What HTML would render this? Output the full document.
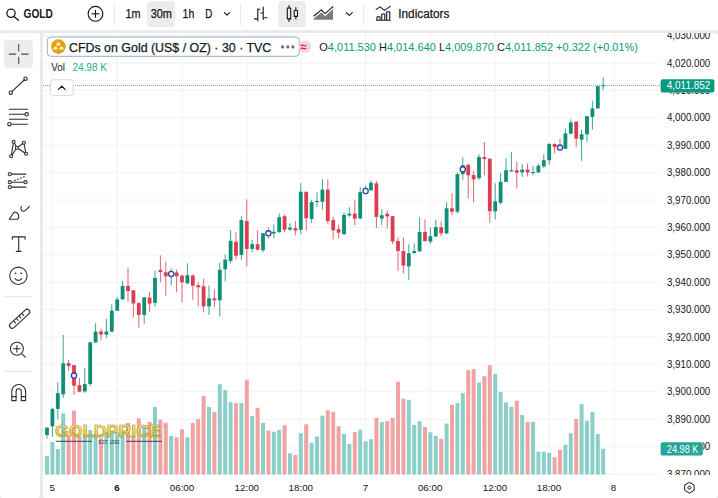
<!DOCTYPE html>
<html><head><meta charset="utf-8"><title>GOLD chart</title>
<style>
*{box-sizing:border-box;margin:0;padding:0}
html,body{width:718px;height:498px;overflow:hidden;background:#e9eaec}
body{position:relative;font-family:"Liberation Sans",Arial,sans-serif;color:#131722}
svg{position:absolute;left:0;top:0;display:block}
text{font-family:"Liberation Sans",Arial,sans-serif}
</style></head>
<body>
<svg width="718" height="498" viewBox="0 0 718 498">
<defs>
<linearGradient id="gold" x1="0" y1="0" x2="0" y2="1">
<stop offset="0" stop-color="#fffce0"/><stop offset="0.4" stop-color="#f6e35c"/><stop offset="1" stop-color="#dcbd30"/>
</linearGradient>
<clipPath id="pane"><rect x="43" y="33" width="675" height="442"/></clipPath>
<clipPath id="paxis"><rect x="655" y="33" width="63" height="442"/></clipPath>
<clipPath id="p3880"><rect x="702.8" y="430" width="20" height="30"/></clipPath>
</defs>
<!-- backgrounds -->
<rect x="0" y="0" width="718" height="30" fill="#fff"/>
<rect x="0" y="33" width="40" height="465" rx="3" fill="#fff"/>
<rect x="43" y="33" width="675" height="465" rx="3" fill="#fff"/>

<!-- top toolbar -->
<g fill="none" stroke="#131722" stroke-width="1.3" stroke-linecap="round">
<circle cx="11" cy="13.3" r="4.1"/>
<line x1="14" y1="16.4" x2="18.4" y2="20.2"/>
</g>
<text x="23.6" y="17.9" font-size="12" font-weight="bold" fill="#131722" textLength="29.2" lengthAdjust="spacingAndGlyphs">GOLD</text>
<g fill="none" stroke="#131722" stroke-width="1.1">
<circle cx="95.5" cy="13.8" r="7.4"/>
<line x1="91.5" y1="13.8" x2="99.5" y2="13.8"/>
<line x1="95.5" y1="9.8" x2="95.5" y2="17.8"/>
</g>
<g fill="#e9eaee">
<rect x="114" y="4" width="1" height="22"/>
<rect x="240" y="4" width="1" height="22"/>
<rect x="363" y="4" width="1" height="22"/>
</g>
<rect x="147" y="1" width="28" height="26" rx="4" fill="#ececec"/>
<rect x="278" y="1" width="28" height="26" rx="4" fill="#ececec"/>
<g font-size="12" fill="#131722" stroke="#131722" stroke-width="0.25">
<text x="125.4" y="17.6" textLength="15" lengthAdjust="spacingAndGlyphs">1m</text>
<text x="150.7" y="17.6" textLength="21.3" lengthAdjust="spacingAndGlyphs">30m</text>
<text x="182.6" y="17.6" textLength="11.7" lengthAdjust="spacingAndGlyphs">1h</text>
<text x="205.3" y="17.6" textLength="7" lengthAdjust="spacingAndGlyphs">D</text>
<text x="398.3" y="17.9" textLength="51" lengthAdjust="spacingAndGlyphs">Indicators</text>
</g>
<g fill="none" stroke="#131722" stroke-width="1.1" stroke-linecap="round" stroke-linejoin="round">
<polyline points="224.3,12.6 227,15.2 229.7,12.6"/>
<polyline points="346.3,12.6 349.3,15.4 352.3,12.6"/>
<!-- bars icon -->
<path d="M257.8 8.9V20.8M254.4 18.9H257.8M257.8 9.3H259.8M263.2 7V19.5M261 13H263.2M263.2 17.7H266.9"/>
<!-- candles icon -->
<path d="M289 5.5V8M289 18.9V21.4M295.85 7.6V10.5M295.85 16.4V18.9"/>
<rect x="287.3" y="8" width="3.4" height="10.9"/>
<rect x="294.2" y="10.5" width="3.3" height="5.9"/>
<!-- area icon -->
<polyline points="313.9,16 321.4,9.8 325,13.7 333,6.6"/>
<!-- indicators icon -->
<polyline points="376.2,9.4 380,6.9 384.5,10.4 390.3,6.4"/>
<path d="M376.3 20.2H390.3M377 20.2V16.7H380V20.2M381.8 20.2V14H384.8V20.2M386.7 20.2V11.7H389.7V20.2"/>
</g>
<polygon points="313.9,19.8 313.9,18.6 321.4,12.3 325,16.2 333,9 333,19.8" fill="#787a84"/>

<!-- left toolbar -->
<rect x="4" y="40" width="29" height="28" rx="4" fill="#ececec"/>
<g fill="none" stroke="#4a4d57" stroke-width="1.1" stroke-linecap="round">
<path d="M9.2 54.1H15.6M21.6 54.1H28.2M18.7 44.6V51M18.7 57.2V63.6"/>
</g>
<g fill="none" stroke="#2a2e39" stroke-width="1.1" stroke-linecap="round" stroke-linejoin="round">
<line x1="12.1" y1="91.4" x2="24.2" y2="80"/>
<circle cx="25.5" cy="78.7" r="1.7"/>
<circle cx="10.8" cy="92.7" r="1.7"/>
<path d="M9.4 109.2H27.5M9.4 114.3H24.9M9.4 119.2H27.5M11.2 124.2H27.5"/>
<circle cx="26.7" cy="114.3" r="1.7" fill="#fff"/>
<circle cx="9.4" cy="124.2" r="1.7" fill="#fff"/>
<path d="M11.2 156.2L13.6 141.7L16.9 147.7L23.9 142.8L26 153.8L16.9 147.7L11.2 156.2"/>
<circle cx="13.6" cy="141.7" r="1.5" fill="#fff"/>
<circle cx="23.9" cy="142.8" r="1.5" fill="#fff"/>
<circle cx="16.9" cy="147.7" r="1.5" fill="#fff"/>
<circle cx="11.2" cy="156.2" r="1.5" fill="#fff"/>
<circle cx="26" cy="153.8" r="1.5" fill="#fff"/>
<path d="M11.5 174.1H26M11.5 182.2H23.8M11.5 187.1H26"/>
<path d="M14.5 180.6L25.3 176.2" stroke-dasharray="0.9 2.3"/>
<circle cx="9.8" cy="174.1" r="1.6" fill="#fff"/>
<circle cx="9.8" cy="182.2" r="1.6" fill="#fff"/>
<circle cx="9.8" cy="187.1" r="1.6" fill="#fff"/>
<circle cx="25.5" cy="182.2" r="1.6" fill="#fff"/>
<path d="M9.2 219.3L14 212.2A4.1 4.1 0 0 1 17.4 219.3Z"/>
<path d="M21.3 206.4C20.3 208.6 21.2 211.3 23.6 211.3C25 211.3 27.5 208.6 29.5 206.4"/>
<path d="M12.3 239.2V236.9H25.1V239.2M18.7 236.9V251.4M16.3 251.4H21.1"/>
<circle cx="18.4" cy="275.8" r="8.7"/>
<path d="M15 278.6Q18.4 282.2 21.8 278.6"/>
<path d="M12.2 325.6L27 312" stroke-width="6.4" stroke="#2a2e39"/>
<path d="M12.2 325.6L27 312" stroke-width="4.2" stroke="#fff"/>
<path d="M13.9 321.2L15.5 322.9M16.6 318.7L18.2 320.4M19.3 316.2L20.9 317.9M22 313.7L23.6 315.4" />
<circle cx="16.9" cy="348.8" r="6.5"/>
<path d="M21.7 353.6L25.3 357.2M13.6 348.8H20.2M16.9 345.5V352.1"/>
<path d="M11.8 400.6V391.4A6.9 6.9 0 0 1 25.6 391.4V400.6H21.3V391.4A2.6 2.6 0 0 0 16.1 391.4V400.6Z"/>
<path d="M11.8 396.6H16.1M21.3 396.6H25.6"/>
</g>
<g fill="#e0e3eb">
<rect x="4" y="296.2" width="28.5" height="1"/>
<rect x="4" y="370.7" width="28.5" height="1"/>
</g>
<g fill="#2a2e39">
<circle cx="15.6" cy="273.3" r="0.9"/>
<circle cx="21.2" cy="273.3" r="0.9"/>
</g>

<!-- chart -->
<g clip-path="url(#pane)">
<g stroke="#f1f2f4" stroke-width="1"><line x1="43" x2="660" y1="35.6" y2="35.6"/><line x1="43" x2="660" y1="63" y2="63"/><line x1="43" x2="660" y1="90.4" y2="90.4"/><line x1="43" x2="660" y1="117.8" y2="117.8"/><line x1="43" x2="660" y1="145.2" y2="145.2"/><line x1="43" x2="660" y1="172.6" y2="172.6"/><line x1="43" x2="660" y1="200" y2="200"/><line x1="43" x2="660" y1="227.4" y2="227.4"/><line x1="43" x2="660" y1="254.8" y2="254.8"/><line x1="43" x2="660" y1="282.2" y2="282.2"/><line x1="43" x2="660" y1="309.6" y2="309.6"/><line x1="43" x2="660" y1="337" y2="337"/><line x1="43" x2="660" y1="364.4" y2="364.4"/><line x1="43" x2="660" y1="391.8" y2="391.8"/><line x1="43" x2="660" y1="419.2" y2="419.2"/><line x1="43" x2="660" y1="446.6" y2="446.6"/><line x1="43" x2="660" y1="474" y2="474"/><line x1="52.4" x2="52.4" y1="33" y2="475"/><line x1="117.2" x2="117.2" y1="33" y2="475"/><line x1="182" x2="182" y1="33" y2="475"/><line x1="246.8" x2="246.8" y1="33" y2="475"/><line x1="300.8" x2="300.8" y1="33" y2="475"/><line x1="365.6" x2="365.6" y1="33" y2="475"/><line x1="430.4" x2="430.4" y1="33" y2="475"/><line x1="495.2" x2="495.2" y1="33" y2="475"/><line x1="549.2" x2="549.2" y1="33" y2="475"/><line x1="614" x2="614" y1="33" y2="475"/></g>
<g><rect x="45" y="456" width="4" height="18.5" fill="#8bcfc8"/><rect x="50.4" y="442" width="4" height="32.5" fill="#8bcfc8"/><rect x="55.8" y="449" width="4" height="25.5" fill="#8bcfc8"/><rect x="61.2" y="413.3" width="4" height="61.2" fill="#8bcfc8"/><rect x="66.6" y="435" width="4" height="39.5" fill="#f1a3a3"/><rect x="72" y="410.5" width="4" height="64" fill="#f1a3a3"/><rect x="77.4" y="436" width="4" height="38.5" fill="#f1a3a3"/><rect x="82.8" y="434" width="4" height="40.5" fill="#8bcfc8"/><rect x="88.2" y="430" width="4" height="44.5" fill="#8bcfc8"/><rect x="93.6" y="434" width="4" height="40.5" fill="#8bcfc8"/><rect x="99" y="438" width="4" height="36.5" fill="#f1a3a3"/><rect x="104.4" y="432" width="4" height="42.5" fill="#8bcfc8"/><rect x="109.8" y="432" width="4" height="42.5" fill="#8bcfc8"/><rect x="115.2" y="432" width="4" height="42.5" fill="#8bcfc8"/><rect x="120.6" y="432" width="4" height="42.5" fill="#8bcfc8"/><rect x="126" y="423" width="4" height="51.5" fill="#f1a3a3"/><rect x="131.4" y="436" width="4" height="38.5" fill="#f1a3a3"/><rect x="136.8" y="418.3" width="4" height="56.2" fill="#f1a3a3"/><rect x="142.2" y="426" width="4" height="48.5" fill="#8bcfc8"/><rect x="147.6" y="422" width="4" height="52.5" fill="#f1a3a3"/><rect x="153" y="407" width="4" height="67.5" fill="#8bcfc8"/><rect x="158.4" y="419.6" width="4" height="54.9" fill="#f1a3a3"/><rect x="163.8" y="422.8" width="4" height="51.7" fill="#f1a3a3"/><rect x="169.2" y="435.9" width="4" height="38.6" fill="#8bcfc8"/><rect x="174.6" y="437.3" width="4" height="37.2" fill="#f1a3a3"/><rect x="180" y="429.2" width="4" height="45.3" fill="#f1a3a3"/><rect x="185.4" y="437.3" width="4" height="37.2" fill="#8bcfc8"/><rect x="190.8" y="423" width="4" height="51.5" fill="#f1a3a3"/><rect x="196.2" y="419.1" width="4" height="55.4" fill="#f1a3a3"/><rect x="201.6" y="395.8" width="4" height="78.7" fill="#f1a3a3"/><rect x="207" y="407" width="4" height="67.5" fill="#8bcfc8"/><rect x="212.4" y="411.8" width="4" height="62.7" fill="#f1a3a3"/><rect x="217.8" y="384.2" width="4" height="90.3" fill="#8bcfc8"/><rect x="223.2" y="390" width="4" height="84.5" fill="#8bcfc8"/><rect x="228.6" y="402.2" width="4" height="72.3" fill="#8bcfc8"/><rect x="234" y="403.1" width="4" height="71.4" fill="#f1a3a3"/><rect x="239.4" y="403.1" width="4" height="71.4" fill="#8bcfc8"/><rect x="244.8" y="379.8" width="4" height="94.7" fill="#f1a3a3"/><rect x="250.2" y="415.9" width="4" height="58.6" fill="#8bcfc8"/><rect x="255.6" y="407.8" width="4" height="66.7" fill="#f1a3a3"/><rect x="261" y="423" width="4" height="51.5" fill="#8bcfc8"/><rect x="266.4" y="430.5" width="4" height="44" fill="#f1a3a3"/><rect x="271.8" y="431.8" width="4" height="42.7" fill="#8bcfc8"/><rect x="277.2" y="430" width="4" height="44.5" fill="#8bcfc8"/><rect x="282.6" y="425.2" width="4" height="49.3" fill="#f1a3a3"/><rect x="288" y="453.2" width="4" height="21.3" fill="#8bcfc8"/><rect x="293.4" y="455.1" width="4" height="19.4" fill="#f1a3a3"/><rect x="298.8" y="433.2" width="4" height="41.3" fill="#8bcfc8"/><rect x="304.2" y="424.3" width="4" height="50.2" fill="#f1a3a3"/><rect x="309.6" y="442.7" width="4" height="31.8" fill="#8bcfc8"/><rect x="315" y="436.5" width="4" height="38" fill="#8bcfc8"/><rect x="320.4" y="415.7" width="4" height="58.8" fill="#8bcfc8"/><rect x="325.8" y="410.3" width="4" height="64.2" fill="#f1a3a3"/><rect x="331.2" y="411.8" width="4" height="62.7" fill="#f1a3a3"/><rect x="336.6" y="426.3" width="4" height="48.2" fill="#f1a3a3"/><rect x="342" y="434" width="4" height="40.5" fill="#8bcfc8"/><rect x="347.4" y="444" width="4" height="30.5" fill="#8bcfc8"/><rect x="352.8" y="432" width="4" height="42.5" fill="#f1a3a3"/><rect x="358.2" y="429.7" width="4" height="44.8" fill="#8bcfc8"/><rect x="363.6" y="441.3" width="4" height="33.2" fill="#8bcfc8"/><rect x="369" y="439.2" width="4" height="35.3" fill="#8bcfc8"/><rect x="374.4" y="417.9" width="4" height="56.6" fill="#f1a3a3"/><rect x="379.8" y="422.1" width="4" height="52.4" fill="#8bcfc8"/><rect x="385.2" y="421.1" width="4" height="53.4" fill="#f1a3a3"/><rect x="390.6" y="417.9" width="4" height="56.6" fill="#f1a3a3"/><rect x="396" y="381.7" width="4" height="92.8" fill="#f1a3a3"/><rect x="401.4" y="398.7" width="4" height="75.8" fill="#f1a3a3"/><rect x="406.8" y="399.8" width="4" height="74.7" fill="#8bcfc8"/><rect x="412.2" y="424.9" width="4" height="49.6" fill="#8bcfc8"/><rect x="417.6" y="421.1" width="4" height="53.4" fill="#8bcfc8"/><rect x="423" y="427" width="4" height="47.5" fill="#f1a3a3"/><rect x="428.4" y="432.3" width="4" height="42.2" fill="#8bcfc8"/><rect x="433.8" y="435.9" width="4" height="38.6" fill="#8bcfc8"/><rect x="439.2" y="438.8" width="4" height="35.7" fill="#f1a3a3"/><rect x="444.6" y="423.5" width="4" height="51" fill="#8bcfc8"/><rect x="450" y="404.8" width="4" height="69.7" fill="#f1a3a3"/><rect x="455.4" y="403.1" width="4" height="71.4" fill="#8bcfc8"/><rect x="460.8" y="393.1" width="4" height="81.4" fill="#8bcfc8"/><rect x="466.2" y="370.1" width="4" height="104.4" fill="#f1a3a3"/><rect x="471.6" y="369.1" width="4" height="105.4" fill="#f1a3a3"/><rect x="477" y="382.5" width="4" height="92" fill="#8bcfc8"/><rect x="482.4" y="376.1" width="4" height="98.4" fill="#f1a3a3"/><rect x="487.8" y="365.2" width="4" height="109.3" fill="#f1a3a3"/><rect x="493.2" y="374" width="4" height="100.5" fill="#8bcfc8"/><rect x="498.6" y="391.9" width="4" height="82.6" fill="#8bcfc8"/><rect x="504" y="402.4" width="4" height="72.1" fill="#8bcfc8"/><rect x="509.4" y="406.7" width="4" height="67.8" fill="#8bcfc8"/><rect x="514.8" y="400.7" width="4" height="73.8" fill="#f1a3a3"/><rect x="520.2" y="415" width="4" height="59.5" fill="#8bcfc8"/><rect x="525.6" y="421.8" width="4" height="52.7" fill="#f1a3a3"/><rect x="531" y="421.8" width="4" height="52.7" fill="#8bcfc8"/><rect x="536.4" y="451.7" width="4" height="22.8" fill="#8bcfc8"/><rect x="541.8" y="451.7" width="4" height="22.8" fill="#8bcfc8"/><rect x="547.2" y="452.9" width="4" height="21.6" fill="#8bcfc8"/><rect x="552.6" y="457.2" width="4" height="17.3" fill="#f1a3a3"/><rect x="558" y="450" width="4" height="24.5" fill="#f1a3a3"/><rect x="563.4" y="444.9" width="4" height="29.6" fill="#8bcfc8"/><rect x="568.8" y="433.2" width="4" height="41.3" fill="#8bcfc8"/><rect x="574.2" y="419" width="4" height="55.5" fill="#f1a3a3"/><rect x="579.6" y="404.2" width="4" height="70.3" fill="#8bcfc8"/><rect x="585" y="420.7" width="4" height="53.8" fill="#8bcfc8"/><rect x="590.4" y="411.9" width="4" height="62.6" fill="#8bcfc8"/><rect x="595.8" y="434" width="4" height="40.5" fill="#8bcfc8"/><rect x="601.2" y="448.7" width="4" height="25.8" fill="#8bcfc8"/></g>
<g><rect x="46.5" y="427" width="1" height="11.4" fill="#0f8f74" fill-opacity="0.8"/><rect x="45.1" y="427.7" width="3.8" height="7.3" fill="#0f8f74"/><rect x="51.9" y="408" width="1" height="28.4" fill="#0f8f74" fill-opacity="0.8"/><rect x="50.5" y="408.9" width="3.8" height="17.4" fill="#0f8f74"/><rect x="57.3" y="382.1" width="1" height="37.2" fill="#0f8f74" fill-opacity="0.8"/><rect x="55.9" y="393.2" width="3.8" height="15.7" fill="#0f8f74"/><rect x="62.7" y="335" width="1" height="63.1" fill="#0f8f74" fill-opacity="0.8"/><rect x="61.3" y="363.2" width="3.8" height="31.1" fill="#0f8f74"/><rect x="68.1" y="360" width="1" height="10.8" fill="#dc3d50" fill-opacity="0.8"/><rect x="66.7" y="363.2" width="3.8" height="2.8" fill="#dc3d50"/><rect x="73.5" y="365" width="1" height="29.9" fill="#dc3d50" fill-opacity="0.8"/><rect x="72.1" y="365.2" width="3.8" height="20.5" fill="#dc3d50"/><rect x="78.9" y="377.7" width="1" height="14.5" fill="#dc3d50" fill-opacity="0.8"/><rect x="77.5" y="385.2" width="3.8" height="6.5" fill="#dc3d50"/><rect x="84.3" y="368" width="1" height="24.8" fill="#0f8f74" fill-opacity="0.8"/><rect x="82.9" y="384.1" width="3.8" height="7.3" fill="#0f8f74"/><rect x="89.7" y="342" width="1" height="44" fill="#0f8f74" fill-opacity="0.8"/><rect x="88.3" y="342.3" width="3.8" height="41.7" fill="#0f8f74"/><rect x="95.1" y="323.3" width="1" height="19.2" fill="#0f8f74" fill-opacity="0.8"/><rect x="93.7" y="331.6" width="3.8" height="10.9" fill="#0f8f74"/><rect x="100.5" y="328.7" width="1" height="11.5" fill="#dc3d50" fill-opacity="0.8"/><rect x="99.1" y="331.5" width="3.8" height="3.1" fill="#dc3d50"/><rect x="105.9" y="319.1" width="1" height="18.9" fill="#0f8f74" fill-opacity="0.8"/><rect x="104.5" y="331.5" width="3.8" height="3.1" fill="#0f8f74"/><rect x="111.3" y="304.2" width="1" height="27.5" fill="#0f8f74" fill-opacity="0.8"/><rect x="109.9" y="310.7" width="3.8" height="21" fill="#0f8f74"/><rect x="116.7" y="297" width="1" height="13.7" fill="#0f8f74" fill-opacity="0.8"/><rect x="115.3" y="299.4" width="3.8" height="11.3" fill="#0f8f74"/><rect x="122.1" y="280.9" width="1" height="18.5" fill="#0f8f74" fill-opacity="0.8"/><rect x="120.7" y="285.9" width="3.8" height="13.5" fill="#0f8f74"/><rect x="127.5" y="267.7" width="1" height="33.7" fill="#dc3d50" fill-opacity="0.8"/><rect x="126.1" y="285.9" width="3.8" height="5.1" fill="#dc3d50"/><rect x="132.9" y="290" width="1" height="27.4" fill="#dc3d50" fill-opacity="0.8"/><rect x="131.5" y="290.3" width="3.8" height="13.2" fill="#dc3d50"/><rect x="138.3" y="302" width="1" height="26" fill="#dc3d50" fill-opacity="0.8"/><rect x="136.9" y="303.2" width="3.8" height="11.7" fill="#dc3d50"/><rect x="143.7" y="297" width="1" height="26.7" fill="#0f8f74" fill-opacity="0.8"/><rect x="142.3" y="297.2" width="3.8" height="17.7" fill="#0f8f74"/><rect x="149.1" y="291.9" width="1" height="19.8" fill="#dc3d50" fill-opacity="0.8"/><rect x="147.7" y="297.7" width="3.8" height="5.9" fill="#dc3d50"/><rect x="154.5" y="270.7" width="1" height="36.1" fill="#0f8f74" fill-opacity="0.8"/><rect x="153.1" y="277.9" width="3.8" height="24.9" fill="#0f8f74"/><rect x="159.9" y="255.4" width="1" height="26.9" fill="#dc3d50" fill-opacity="0.8"/><rect x="158.5" y="269.9" width="3.8" height="2.1" fill="#dc3d50"/><rect x="165.3" y="261.9" width="1" height="33.7" fill="#dc3d50" fill-opacity="0.8"/><rect x="163.9" y="272.3" width="3.8" height="4" fill="#dc3d50"/><rect x="170.7" y="268.3" width="1" height="16.9" fill="#0f8f74" fill-opacity="0.8"/><rect x="169.3" y="272.5" width="3.8" height="2.5" fill="#0f8f74"/><rect x="176.1" y="269.7" width="1" height="22.7" fill="#dc3d50" fill-opacity="0.8"/><rect x="174.7" y="272.4" width="3.8" height="3.9" fill="#dc3d50"/><rect x="181.5" y="274.8" width="1" height="27.5" fill="#dc3d50" fill-opacity="0.8"/><rect x="180.1" y="275.6" width="3.8" height="6.7" fill="#dc3d50"/><rect x="186.9" y="263.2" width="1" height="21.1" fill="#0f8f74" fill-opacity="0.8"/><rect x="185.5" y="275.2" width="3.8" height="8.1" fill="#0f8f74"/><rect x="192.3" y="274.2" width="1" height="25.5" fill="#dc3d50" fill-opacity="0.8"/><rect x="190.9" y="275.6" width="3.8" height="10.1" fill="#dc3d50"/><rect x="197.7" y="282.3" width="1" height="24.1" fill="#dc3d50" fill-opacity="0.8"/><rect x="196.3" y="285.3" width="3.8" height="2" fill="#dc3d50"/><rect x="203.1" y="278.9" width="1" height="33.5" fill="#dc3d50" fill-opacity="0.8"/><rect x="201.7" y="286.3" width="3.8" height="20.1" fill="#dc3d50"/><rect x="208.5" y="285.7" width="1" height="29.3" fill="#0f8f74" fill-opacity="0.8"/><rect x="207.1" y="298.3" width="3.8" height="8.1" fill="#0f8f74"/><rect x="213.9" y="289.7" width="1" height="17.7" fill="#dc3d50" fill-opacity="0.8"/><rect x="212.5" y="298.3" width="3.8" height="2" fill="#dc3d50"/><rect x="219.3" y="262.5" width="1" height="54" fill="#0f8f74" fill-opacity="0.8"/><rect x="217.9" y="269.8" width="3.8" height="30.5" fill="#0f8f74"/><rect x="224.7" y="254.3" width="1" height="27.1" fill="#0f8f74" fill-opacity="0.8"/><rect x="223.3" y="259.7" width="3.8" height="9.6" fill="#0f8f74"/><rect x="230.1" y="230.2" width="1" height="33.1" fill="#0f8f74" fill-opacity="0.8"/><rect x="228.7" y="240.8" width="3.8" height="20.1" fill="#0f8f74"/><rect x="235.5" y="232.2" width="1" height="27.1" fill="#dc3d50" fill-opacity="0.8"/><rect x="234.1" y="241.8" width="3.8" height="13.9" fill="#dc3d50"/><rect x="240.9" y="216.1" width="1" height="43.6" fill="#0f8f74" fill-opacity="0.8"/><rect x="239.5" y="220.1" width="3.8" height="34.8" fill="#0f8f74"/><rect x="246.3" y="199.5" width="1" height="66.8" fill="#dc3d50" fill-opacity="0.8"/><rect x="244.9" y="221.1" width="3.8" height="27.8" fill="#dc3d50"/><rect x="251.7" y="239.6" width="1" height="12.7" fill="#0f8f74" fill-opacity="0.8"/><rect x="250.3" y="244.2" width="3.8" height="4.7" fill="#0f8f74"/><rect x="257.1" y="230.2" width="1" height="20.1" fill="#dc3d50" fill-opacity="0.8"/><rect x="255.7" y="244.2" width="3.8" height="5.5" fill="#dc3d50"/><rect x="262.5" y="233" width="1" height="19.3" fill="#0f8f74" fill-opacity="0.8"/><rect x="261.1" y="233.3" width="3.8" height="17" fill="#0f8f74"/><rect x="267.9" y="227.5" width="1" height="11.1" fill="#dc3d50" fill-opacity="0.8"/><rect x="266.5" y="232.3" width="3.8" height="2" fill="#dc3d50"/><rect x="273.3" y="224.6" width="1" height="13.7" fill="#0f8f74" fill-opacity="0.8"/><rect x="271.9" y="231.8" width="3.8" height="1.7" fill="#0f8f74"/><rect x="278.7" y="213.2" width="1" height="19.3" fill="#0f8f74" fill-opacity="0.8"/><rect x="277.3" y="217.2" width="3.8" height="15" fill="#0f8f74"/><rect x="284.1" y="214.2" width="1" height="18" fill="#dc3d50" fill-opacity="0.8"/><rect x="282.7" y="216.2" width="3.8" height="13.6" fill="#dc3d50"/><rect x="289.5" y="223.2" width="1" height="8" fill="#0f8f74" fill-opacity="0.8"/><rect x="288.1" y="227.6" width="3.8" height="2" fill="#0f8f74"/><rect x="294.9" y="221.2" width="1" height="14.1" fill="#dc3d50" fill-opacity="0.8"/><rect x="293.5" y="228.2" width="3.8" height="2.4" fill="#dc3d50"/><rect x="300.3" y="183.1" width="1" height="51.2" fill="#0f8f74" fill-opacity="0.8"/><rect x="298.9" y="191.7" width="3.8" height="38.1" fill="#0f8f74"/><rect x="305.7" y="191.5" width="1" height="39" fill="#dc3d50" fill-opacity="0.8"/><rect x="304.3" y="191.8" width="3.8" height="26.4" fill="#dc3d50"/><rect x="311.1" y="199.7" width="1" height="23.3" fill="#0f8f74" fill-opacity="0.8"/><rect x="309.7" y="202.1" width="3.8" height="16.9" fill="#0f8f74"/><rect x="316.5" y="192.2" width="1" height="14.4" fill="#0f8f74" fill-opacity="0.8"/><rect x="315.1" y="201" width="3.8" height="1.1" fill="#0f8f74"/><rect x="321.9" y="179.3" width="1" height="30.5" fill="#0f8f74" fill-opacity="0.8"/><rect x="320.5" y="189.6" width="3.8" height="12.2" fill="#0f8f74"/><rect x="327.3" y="179.3" width="1" height="44.5" fill="#dc3d50" fill-opacity="0.8"/><rect x="325.9" y="189.6" width="3.8" height="31.5" fill="#dc3d50"/><rect x="332.7" y="216.9" width="1" height="22.5" fill="#dc3d50" fill-opacity="0.8"/><rect x="331.3" y="220.1" width="3.8" height="10.1" fill="#dc3d50"/><rect x="338.1" y="224.6" width="1" height="13.7" fill="#dc3d50" fill-opacity="0.8"/><rect x="336.7" y="229.1" width="3.8" height="3.6" fill="#dc3d50"/><rect x="343.5" y="212.6" width="1" height="21.9" fill="#0f8f74" fill-opacity="0.8"/><rect x="342.1" y="215" width="3.8" height="19.3" fill="#0f8f74"/><rect x="348.9" y="207.3" width="1" height="9.5" fill="#0f8f74" fill-opacity="0.8"/><rect x="347.5" y="213.7" width="3.8" height="1.8" fill="#0f8f74"/><rect x="354.3" y="199.8" width="1" height="25.4" fill="#dc3d50" fill-opacity="0.8"/><rect x="352.9" y="213.7" width="3.8" height="4.9" fill="#dc3d50"/><rect x="359.7" y="187.2" width="1" height="31.6" fill="#0f8f74" fill-opacity="0.8"/><rect x="358.3" y="192.1" width="3.8" height="26.5" fill="#0f8f74"/><rect x="365.1" y="185.5" width="1" height="9.2" fill="#0f8f74" fill-opacity="0.8"/><rect x="363.7" y="189.5" width="3.8" height="3" fill="#0f8f74"/><rect x="370.5" y="180.6" width="1" height="9.9" fill="#0f8f74" fill-opacity="0.8"/><rect x="369.1" y="182.8" width="3.8" height="7.5" fill="#0f8f74"/><rect x="375.9" y="181" width="1" height="46.9" fill="#dc3d50" fill-opacity="0.8"/><rect x="374.5" y="183.3" width="3.8" height="33.6" fill="#dc3d50"/><rect x="381.3" y="209.3" width="1" height="15.9" fill="#0f8f74" fill-opacity="0.8"/><rect x="379.9" y="215.3" width="3.8" height="3.3" fill="#0f8f74"/><rect x="386.7" y="210.4" width="1" height="18.1" fill="#dc3d50" fill-opacity="0.8"/><rect x="385.3" y="213.7" width="3.8" height="2.7" fill="#dc3d50"/><rect x="392.1" y="216" width="1" height="28.2" fill="#dc3d50" fill-opacity="0.8"/><rect x="390.7" y="216.2" width="3.8" height="25.2" fill="#dc3d50"/><rect x="397.5" y="237.5" width="1" height="33.4" fill="#dc3d50" fill-opacity="0.8"/><rect x="396.1" y="241.1" width="3.8" height="9.9" fill="#dc3d50"/><rect x="402.9" y="237.5" width="1" height="36.1" fill="#dc3d50" fill-opacity="0.8"/><rect x="401.5" y="251" width="3.8" height="14.5" fill="#dc3d50"/><rect x="408.3" y="244.2" width="1" height="35.8" fill="#0f8f74" fill-opacity="0.8"/><rect x="406.9" y="253.2" width="3.8" height="13.2" fill="#0f8f74"/><rect x="413.7" y="243.4" width="1" height="10.1" fill="#0f8f74" fill-opacity="0.8"/><rect x="412.3" y="251" width="3.8" height="2.2" fill="#0f8f74"/><rect x="419.1" y="217.6" width="1" height="34" fill="#0f8f74" fill-opacity="0.8"/><rect x="417.7" y="232" width="3.8" height="19.4" fill="#0f8f74"/><rect x="424.5" y="219.4" width="1" height="22.1" fill="#dc3d50" fill-opacity="0.8"/><rect x="423.1" y="232" width="3.8" height="9.1" fill="#dc3d50"/><rect x="429.9" y="227.5" width="1" height="16.3" fill="#0f8f74" fill-opacity="0.8"/><rect x="428.5" y="236.2" width="3.8" height="5.4" fill="#0f8f74"/><rect x="435.3" y="219.6" width="1" height="17" fill="#0f8f74" fill-opacity="0.8"/><rect x="433.9" y="227.1" width="3.8" height="9.4" fill="#0f8f74"/><rect x="440.7" y="221.3" width="1" height="15.1" fill="#dc3d50" fill-opacity="0.8"/><rect x="439.3" y="227.3" width="3.8" height="6.1" fill="#dc3d50"/><rect x="446.1" y="202.2" width="1" height="32.2" fill="#0f8f74" fill-opacity="0.8"/><rect x="444.7" y="208.3" width="3.8" height="25.1" fill="#0f8f74"/><rect x="451.5" y="193.2" width="1" height="22.1" fill="#dc3d50" fill-opacity="0.8"/><rect x="450.1" y="208.3" width="3.8" height="3.4" fill="#dc3d50"/><rect x="456.9" y="172.5" width="1" height="40.8" fill="#0f8f74" fill-opacity="0.8"/><rect x="455.5" y="174.1" width="3.8" height="37.6" fill="#0f8f74"/><rect x="462.3" y="157.2" width="1" height="22.5" fill="#0f8f74" fill-opacity="0.8"/><rect x="460.9" y="165.1" width="3.8" height="9" fill="#0f8f74"/><rect x="467.7" y="164.1" width="1" height="34.1" fill="#dc3d50" fill-opacity="0.8"/><rect x="466.3" y="164.8" width="3.8" height="10.5" fill="#dc3d50"/><rect x="473.1" y="170.7" width="1" height="31.5" fill="#dc3d50" fill-opacity="0.8"/><rect x="471.7" y="175.1" width="3.8" height="4.3" fill="#dc3d50"/><rect x="478.5" y="154.2" width="1" height="25.6" fill="#0f8f74" fill-opacity="0.8"/><rect x="477.1" y="157" width="3.8" height="21.2" fill="#0f8f74"/><rect x="483.9" y="142" width="1" height="33.2" fill="#dc3d50" fill-opacity="0.8"/><rect x="482.5" y="157.1" width="3.8" height="2" fill="#dc3d50"/><rect x="489.3" y="158.5" width="1" height="64.3" fill="#dc3d50" fill-opacity="0.8"/><rect x="487.9" y="158.7" width="3.8" height="52.6" fill="#dc3d50"/><rect x="494.7" y="183.2" width="1" height="36.2" fill="#0f8f74" fill-opacity="0.8"/><rect x="493.3" y="201.3" width="3.8" height="10" fill="#0f8f74"/><rect x="500.1" y="173.2" width="1" height="31.5" fill="#0f8f74" fill-opacity="0.8"/><rect x="498.7" y="181.8" width="3.8" height="20.9" fill="#0f8f74"/><rect x="505.5" y="158.1" width="1" height="23.9" fill="#0f8f74" fill-opacity="0.8"/><rect x="504.1" y="170.2" width="3.8" height="11.6" fill="#0f8f74"/><rect x="510.9" y="151.7" width="1" height="19.9" fill="#0f8f74" fill-opacity="0.8"/><rect x="509.5" y="170.2" width="3.8" height="1.2" fill="#0f8f74"/><rect x="516.3" y="161.7" width="1" height="26.9" fill="#dc3d50" fill-opacity="0.8"/><rect x="514.9" y="170.2" width="3.8" height="2.4" fill="#dc3d50"/><rect x="521.7" y="163.9" width="1" height="13" fill="#0f8f74" fill-opacity="0.8"/><rect x="520.3" y="169.6" width="3.8" height="2.8" fill="#0f8f74"/><rect x="527.1" y="163.3" width="1" height="13.2" fill="#dc3d50" fill-opacity="0.8"/><rect x="525.7" y="169.6" width="3.8" height="2.8" fill="#dc3d50"/><rect x="532.5" y="166" width="1" height="9.4" fill="#0f8f74" fill-opacity="0.8"/><rect x="531.1" y="172" width="3.8" height="1" fill="#0f8f74"/><rect x="537.9" y="163.9" width="1" height="8.7" fill="#0f8f74" fill-opacity="0.8"/><rect x="536.5" y="165.7" width="3.8" height="6.7" fill="#0f8f74"/><rect x="543.3" y="154.3" width="1" height="13.9" fill="#0f8f74" fill-opacity="0.8"/><rect x="541.9" y="160.2" width="3.8" height="6.2" fill="#0f8f74"/><rect x="548.7" y="142.9" width="1" height="21.7" fill="#0f8f74" fill-opacity="0.8"/><rect x="547.3" y="144" width="3.8" height="16.2" fill="#0f8f74"/><rect x="554.1" y="143" width="1" height="10.4" fill="#dc3d50" fill-opacity="0.8"/><rect x="552.7" y="144" width="3.8" height="3" fill="#dc3d50"/><rect x="559.5" y="138.9" width="1" height="11.1" fill="#dc3d50" fill-opacity="0.8"/><rect x="558.1" y="146.5" width="3.8" height="2" fill="#dc3d50"/><rect x="564.9" y="128.6" width="1" height="20.4" fill="#0f8f74" fill-opacity="0.8"/><rect x="563.5" y="133.4" width="3.8" height="15.4" fill="#0f8f74"/><rect x="570.3" y="119.3" width="1" height="14.5" fill="#0f8f74" fill-opacity="0.8"/><rect x="568.9" y="122.4" width="3.8" height="11.3" fill="#0f8f74"/><rect x="575.7" y="121.5" width="1" height="25.8" fill="#dc3d50" fill-opacity="0.8"/><rect x="574.3" y="121.6" width="3.8" height="17" fill="#dc3d50"/><rect x="581.1" y="129.6" width="1" height="31.2" fill="#0f8f74" fill-opacity="0.8"/><rect x="579.7" y="134.3" width="3.8" height="5.4" fill="#0f8f74"/><rect x="586.5" y="116" width="1" height="26.2" fill="#0f8f74" fill-opacity="0.8"/><rect x="585.1" y="116.2" width="3.8" height="18.1" fill="#0f8f74"/><rect x="591.9" y="100.7" width="1" height="28.9" fill="#0f8f74" fill-opacity="0.8"/><rect x="590.5" y="108.4" width="3.8" height="8.5" fill="#0f8f74"/><rect x="597.3" y="86" width="1" height="22.5" fill="#0f8f74" fill-opacity="0.8"/><rect x="595.9" y="86.2" width="3.8" height="22.2" fill="#0f8f74"/><rect x="602.7" y="77.2" width="1" height="13.2" fill="#0f8f74" fill-opacity="0.8"/><rect x="601.3" y="85.3" width="3.8" height="1" fill="#0f8f74"/></g>
<g><circle cx="74" cy="375.6" r="2.6" fill="#fff" stroke="#3347a6" stroke-width="1.35"/><circle cx="171.2" cy="273.9" r="2.6" fill="#fff" stroke="#3347a6" stroke-width="1.35"/><circle cx="268.4" cy="233.3" r="2.6" fill="#fff" stroke="#3347a6" stroke-width="1.35"/><circle cx="365.6" cy="191" r="2.6" fill="#fff" stroke="#3347a6" stroke-width="1.35"/><circle cx="462.8" cy="169.3" r="2.6" fill="#fff" stroke="#3347a6" stroke-width="1.35"/><circle cx="560" cy="147.6" r="2.6" fill="#fff" stroke="#3347a6" stroke-width="1.35"/></g>
</g>

<!-- price axis labels -->
<g font-size="10.3" fill="#131722" clip-path="url(#paxis)">
<text x="666.9" y="39.2" textLength="43.4" lengthAdjust="spacingAndGlyphs">4,030.000</text><text x="666.9" y="66.6" textLength="43.4" lengthAdjust="spacingAndGlyphs">4,020.000</text><text x="666.9" y="94" textLength="43.4" lengthAdjust="spacingAndGlyphs">4,010.000</text><text x="666.9" y="121.4" textLength="43.4" lengthAdjust="spacingAndGlyphs">4,000.000</text><text x="666.9" y="148.8" textLength="43.4" lengthAdjust="spacingAndGlyphs">3,990.000</text><text x="666.9" y="176.2" textLength="43.4" lengthAdjust="spacingAndGlyphs">3,980.000</text><text x="666.9" y="203.6" textLength="43.4" lengthAdjust="spacingAndGlyphs">3,970.000</text><text x="666.9" y="231" textLength="43.4" lengthAdjust="spacingAndGlyphs">3,960.000</text><text x="666.9" y="258.4" textLength="43.4" lengthAdjust="spacingAndGlyphs">3,950.000</text><text x="666.9" y="285.8" textLength="43.4" lengthAdjust="spacingAndGlyphs">3,940.000</text><text x="666.9" y="313.2" textLength="43.4" lengthAdjust="spacingAndGlyphs">3,930.000</text><text x="666.9" y="340.6" textLength="43.4" lengthAdjust="spacingAndGlyphs">3,920.000</text><text x="666.9" y="368" textLength="43.4" lengthAdjust="spacingAndGlyphs">3,910.000</text><text x="666.9" y="395.4" textLength="43.4" lengthAdjust="spacingAndGlyphs">3,900.000</text><text x="666.9" y="422.8" textLength="43.4" lengthAdjust="spacingAndGlyphs">3,890.000</text><text x="666.9" y="450.2" textLength="43.4" lengthAdjust="spacingAndGlyphs" clip-path="url(#p3880)">3,880.000</text><text x="666.9" y="477.6" textLength="43.4" lengthAdjust="spacingAndGlyphs">3,870.000</text>
</g>
<!-- time axis labels -->
<g font-size="9.8" fill="#131722" text-anchor="middle">
<text x="52.2" y="490.6">5</text>
<text x="117" y="490.6" font-weight="bold">6</text>
<text x="182" y="490.6">06:00</text>
<text x="246.8" y="490.6">12:00</text>
<text x="300.8" y="490.6">18:00</text>
<text x="365.4" y="490.6">7</text>
<text x="430.2" y="490.6">06:00</text>
<text x="495" y="490.6">12:00</text>
<text x="549" y="490.6">18:00</text>
<text x="613.6" y="490.6">8</text>
</g>
<g fill="none" stroke="#131722" stroke-width="1" stroke-linejoin="round">
<polygon points="689.4,482.3 694.1,485 694.1,490.4 689.4,493.1 684.7,490.4 684.7,485"/>
<circle cx="689.4" cy="487.7" r="1.5"/>
</g>
<!-- current price line -->
<line x1="43" x2="660" y1="85.5" y2="85.5" stroke="#3f9c8c" stroke-opacity="0.75" stroke-width="1" stroke-dasharray="1 1"/>
<rect x="660.6" y="79.2" width="53.8" height="13.2" rx="2" fill="#089981"/>
<text x="666.8" y="89" font-size="10.4" fill="#fff" textLength="43.5" lengthAdjust="spacingAndGlyphs">4,011.852</text>
<rect x="660.6" y="442.2" width="42.2" height="13.3" rx="2" fill="#26a69a"/>
<text x="666.8" y="452.7" font-size="10.8" fill="#fff" textLength="31.6" lengthAdjust="spacingAndGlyphs">24.98 K</text>

<!-- legend -->
<rect x="47.3" y="37" width="252" height="19.3" rx="3.5" fill="#fff" stroke="#98adc9" stroke-width="1"/>
<circle cx="58.4" cy="46.6" r="7.3" fill="#e0a010"/>
<g fill="#fff0b8">
<path d="M56 45.4L57.1 42.6H59.7L60.8 45.4Z"/>
<path d="M53 49.6L54.1 46.8H56.7L57.8 49.6Z"/>
<path d="M59 49.6L60.1 46.8H62.7L63.8 49.6Z"/>
</g>
<text x="69" y="52" font-size="13" fill="#131722" stroke="#131722" stroke-width="0.25" textLength="202.3" lengthAdjust="spacingAndGlyphs">CFDs on Gold (US$ / OZ) · 30 · TVC</text>
<g fill="#6a6d78">
<circle cx="282.6" cy="46.9" r="1.6"/><circle cx="287.8" cy="46.9" r="1.6"/><circle cx="292.9" cy="46.9" r="1.6"/>
</g>
<circle cx="305.1" cy="46.6" r="6.2" fill="#fbd3e0"/>
<text x="303.6" y="50.6" font-size="12" fill="#d0245a" text-anchor="middle" font-weight="bold">≈</text>
<text x="319.3" y="51" font-size="10.4" textLength="318.7" lengthAdjust="spacingAndGlyphs"><tspan fill="#131722">O</tspan><tspan fill="#089981">4,011.530 </tspan><tspan fill="#131722">H</tspan><tspan fill="#089981">4,014.640 </tspan><tspan fill="#131722">L</tspan><tspan fill="#089981">4,009.870 </tspan><tspan fill="#131722">C</tspan><tspan fill="#089981">4,011.852 +0.322 (+0.01%)</tspan></text>
<text x="51.2" y="70.5" font-size="10" fill="#131722" textLength="13.7" lengthAdjust="spacingAndGlyphs">Vol</text>
<text x="72.4" y="70.5" font-size="10" fill="#22ab94" textLength="34.6" lengthAdjust="spacingAndGlyphs">24.98 K</text>
<rect x="50.5" y="79.8" width="22.7" height="15.8" rx="2.5" fill="#fff" stroke="#d9dbe0" stroke-width="1"/>
<polyline points="58.4,89.4 61.8,86.2 65.2,89.4" fill="none" stroke="#131722" stroke-width="1.2" stroke-linecap="round" stroke-linejoin="round"/>

<!-- logo watermark -->
<text x="55" y="436.8" font-size="16.6" font-weight="bold" font-family="'DejaVu Sans', sans-serif" fill="url(#gold)" stroke="#9c8618" stroke-width="0.55" textLength="106" lengthAdjust="spacingAndGlyphs">GOLDPRICE</text>
<text x="163" y="428" font-size="4" fill="#a8870f">®</text>
<rect x="55.8" y="440.8" width="36" height="0.9" fill="#28304a"/>
<rect x="126" y="440.8" width="36" height="0.9" fill="#28304a"/>
<text x="98.6" y="443.6" font-size="6" font-family="'Liberation Serif', serif" fill="#2e3550" textLength="21" lengthAdjust="spacingAndGlyphs">EST. 1992</text>
</svg>
</body></html>
